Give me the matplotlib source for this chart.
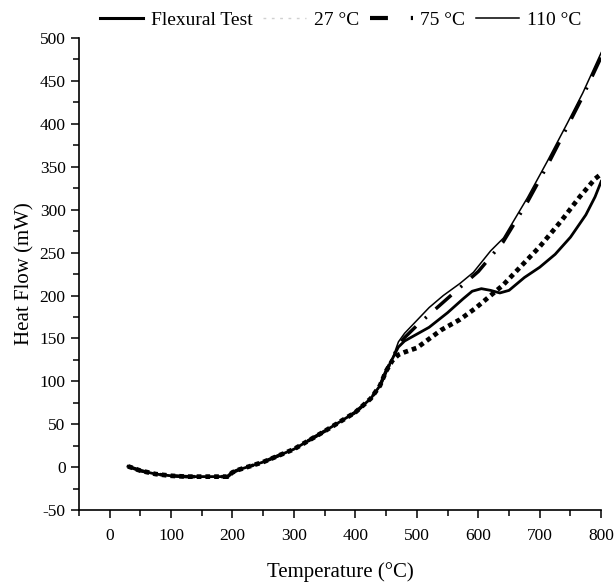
import numpy as np
import matplotlib.pyplot as plt
from matplotlib.lines import Line2D
from matplotlib.ticker import MultipleLocator

plt.rcParams['font.family'] = ['Liberation Serif', 'DejaVu Serif']
plt.rcParams['axes.unicode_minus'] = False

# shared low temperature part (all curves overlap here)
t_low = [30, 50, 75, 100, 125, 150, 175, 192, 200, 210, 250, 300, 350, 400, 425, 440, 450, 460]
h_low = [1, -4, -8, -10, -11, -11, -11, -11, -6, -3, 6, 21, 42, 64, 80, 95, 112, 126]

# Flexural Test
t_flex = t_low + [470, 480, 500, 520, 550, 575, 590, 605, 620, 635, 650, 675, 700, 725, 750, 775, 790, 800]
h_flex = h_low + [140, 147, 155, 163, 180, 196, 205, 208, 206, 203, 206, 221, 233, 248, 268, 294, 315, 333]

# 27 °C
t_27 = t_low + [470, 480, 500, 540, 570, 595, 620, 640, 660, 700, 735, 765, 790, 797]
h_27 = h_low[:-1] + [124, 131, 134, 139, 160, 172, 185, 200, 212, 227, 257, 287, 315, 336, 340]

# 75 °C
t_75 = t_low + [470, 480, 500, 530, 560, 600, 640, 680, 712, 745, 770, 800]
h_75 = h_low + [142, 151, 165, 184, 203, 228, 262, 309, 351, 397, 432, 478]

# 110 °C
t_110 = t_low + [470, 480, 500, 520, 543, 570, 592, 620, 641, 680, 712, 745, 770, 800]
h_110 = h_low + [146, 156, 171, 186, 200, 214, 227, 252, 267, 314, 356, 401, 436, 483]

fig = plt.figure(figsize=(6.16, 5.85), dpi=100)
ax = fig.add_axes([0.128, 0.128, 0.848, 0.807])

ax.plot(t_110, h_110, color='black', lw=1.1)
ax.plot(t_75, h_75, color='black', lw=2.5, linestyle=(0, (6, 3.5, 0.6, 3.5)))
ax.plot(t_27, h_27, color='black', lw=3.4, linestyle=(0, (1, 0.85)))
ax.plot(t_flex, h_flex, color='black', lw=2.0)

ax.set_xlim(-50, 800)
ax.set_ylim(-50, 500)
ax.xaxis.set_major_locator(MultipleLocator(100))
ax.xaxis.set_minor_locator(MultipleLocator(50))
ax.yaxis.set_major_locator(MultipleLocator(50))
ax.yaxis.set_minor_locator(MultipleLocator(25))
ax.spines['top'].set_visible(False)
ax.spines['right'].set_visible(False)
for s in ['left', 'bottom']:
    ax.spines[s].set_linewidth(1.2)
ax.tick_params(which='major', direction='out', length=6, width=1.1, labelsize=12.5)
ax.tick_params(which='minor', direction='out', length=4, width=1.1)
ax.tick_params(axis='x', pad=7)

ax.set_xlabel('Temperature (°C)', fontsize=15, labelpad=13)
ax.set_ylabel('Heat Flow (mW)', fontsize=15, labelpad=4)

handles = [
    Line2D([], [], color='black', lw=2.2),
    Line2D([], [], color='#d0d0d0', lw=1.0, linestyle=(0, (2, 4))),
    Line2D([], [], color='black', lw=3.0, linestyle=(0, (4.3, 5.5, 0.7, 5))),
    Line2D([], [], color='black', lw=1.1),
]
labels = ['Flexural Test', '27 °C', '75 °C', '110 °C']
fig.legend(handles, labels, loc='center', bbox_to_anchor=(0.553, 0.966), ncol=4,
           frameon=False, fontsize=14, handlelength=2.2, handletextpad=0.4,
           columnspacing=0.55)

fig.savefig('out.png', dpi=100)
